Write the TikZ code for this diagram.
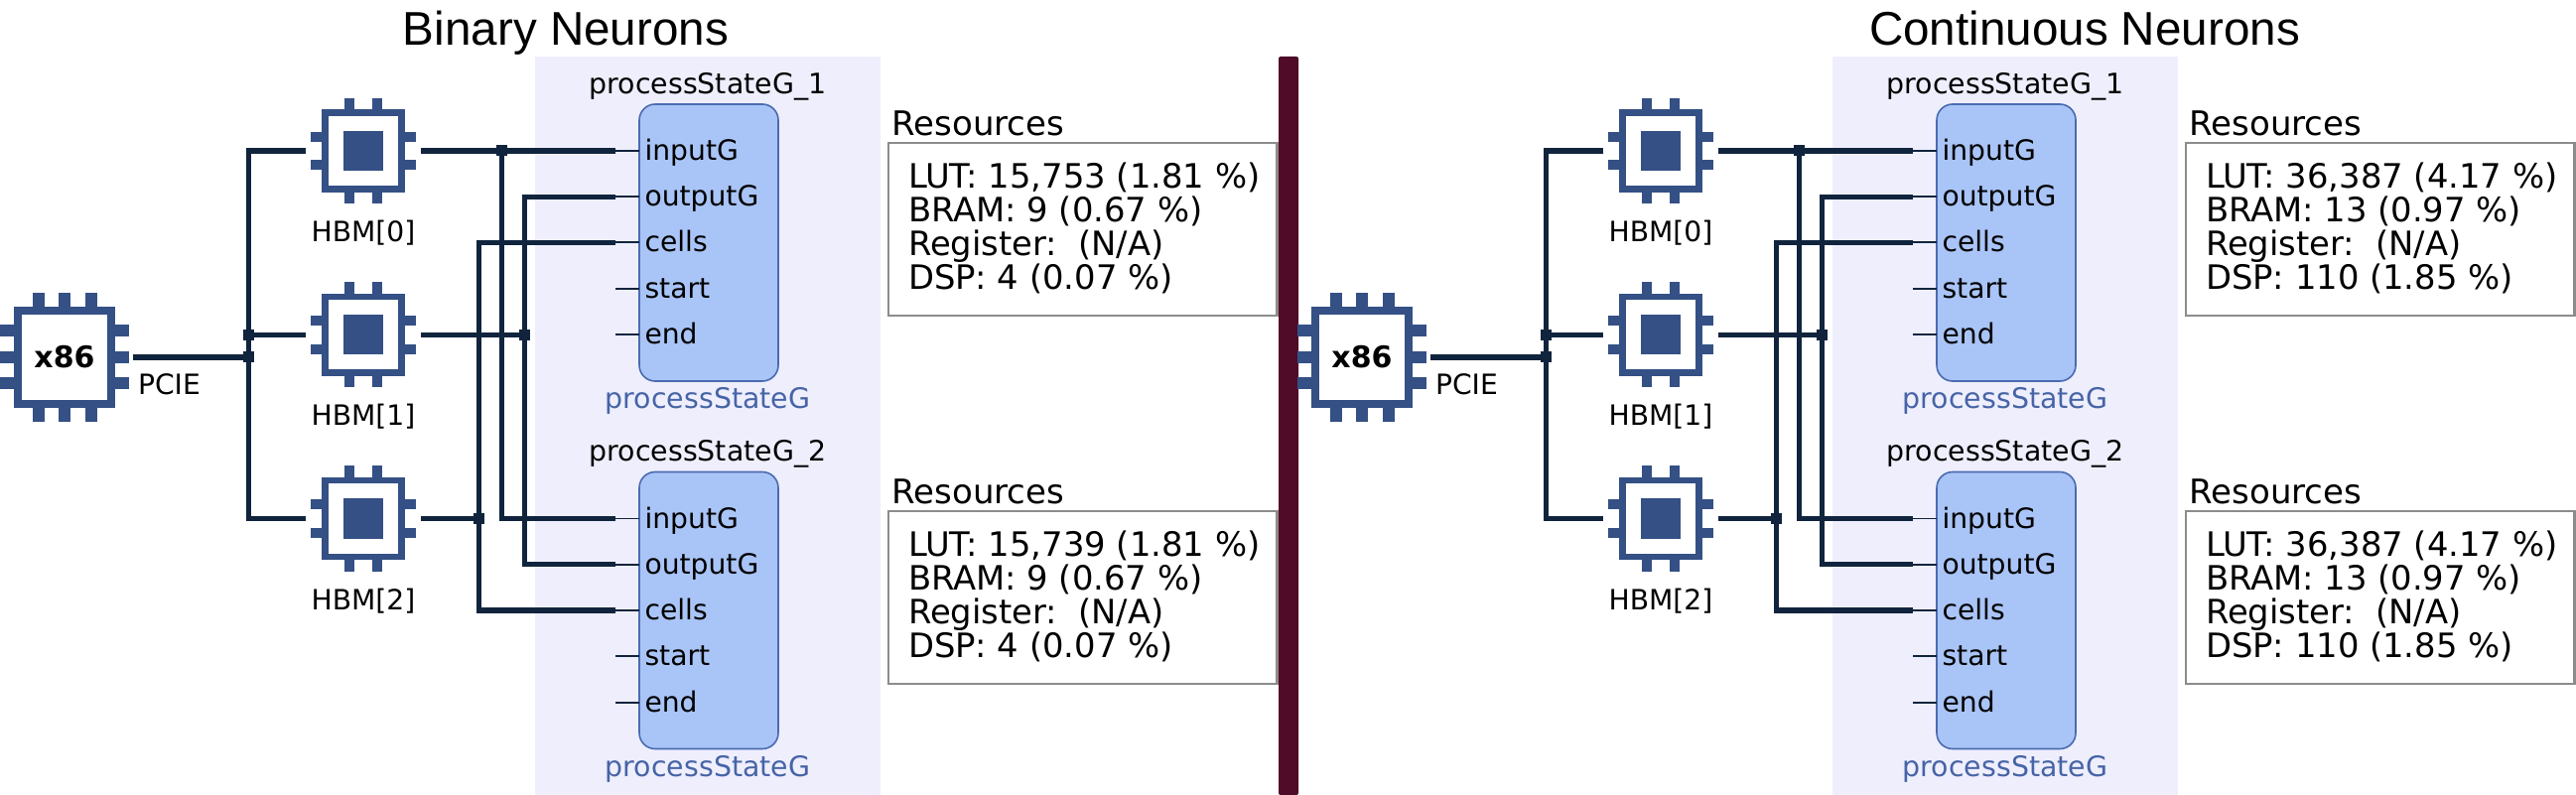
\documentclass[tikz,border=0pt]{standalone}
\usepackage{fontspec}
\setmainfont{DejaVu Sans}
\newfontfamily\titlefont{Liberation Sans}
\definecolor{chipblue}{HTML}{345085}
\definecolor{wirenavy}{HTML}{11243D}
\definecolor{panelbg}{HTML}{EEEEFD}
\definecolor{modfill}{HTML}{A9C4F6}
\definecolor{modedge}{HTML}{4A6BB0}
\definecolor{modtext}{HTML}{4664A6}
\definecolor{resedge}{HTML}{8C8C8C}
\definecolor{divider}{HTML}{4F0B27}
\tikzset{
  x=0.5pt,y=-0.5pt,
  wire/.style={draw=wirenavy,line width=2.6pt},
  stub/.style={draw=wirenavy,line width=0.9pt},
  junction/.style={fill=wirenavy,inner sep=0pt,outer sep=0pt,minimum size=5.5pt},
  panelbox/.style={fill=panelbg,inner sep=0pt,outer sep=0pt,minimum width=174pt,minimum height=372pt},
  modbox/.style={draw=modedge,line width=0.8pt,fill=modfill,rounded corners=8pt,inner sep=0pt,outer sep=0pt,minimum width=70pt,minimum height=139.5pt},
  resbox/.style={draw=resedge,line width=1.2pt,fill=white,inner sep=0pt,outer sep=0pt,minimum width=195.8pt,minimum height=87pt},
  cpubody/.style={draw=chipblue,line width=4pt,fill=white,inner sep=0pt,outer sep=0pt,minimum size=46.8pt},
  hbmbody/.style={draw=chipblue,line width=3.35pt,fill=white,inner sep=0pt,outer sep=0pt,minimum size=38.35pt},
  hbmcore/.style={fill=chipblue,inner sep=0pt,outer sep=0pt,minimum size=20pt},
  chipclear/.style={inner sep=0pt,outer sep=0pt},
  lbl/.style={inner sep=0pt,outer sep=0pt,font=\fontsize{14.1pt}{16pt}\selectfont,anchor=base},
  port/.style={lbl,anchor=base west},
  modlbl/.style={lbl,font=\fontsize{14.2pt}{16pt}\selectfont},
  restitle/.style={inner sep=0pt,outer sep=0pt,anchor=base west,font=\fontsize{17pt}{18pt}\selectfont},
  restext/.style={inner sep=0pt,outer sep=0pt,anchor=base west,font=\fontsize{16.9pt}{17pt}\selectfont},
  toptitle/.style={inner sep=0pt,outer sep=0pt,anchor=base,font=\titlefont\fontsize{23.8pt}{26pt}\selectfont},
}
% HBM chip: name, y
\newcommand{\hbmchip}[3]{%
  \foreach \dx in {-14.3,14.3}{
    \fill[chipblue] (366+\dx-5,#2-53) rectangle (366+\dx+5,#2+53);
    \fill[chipblue] (366-53,#2+\dx-5) rectangle (366+53,#2+\dx+5);
  }
  \node[hbmbody] (#1body) at (366,#2) {};
  \node[hbmcore] (#1core) at (366,#2) {};
  \node[chipclear,minimum size=58pt] (#1) at (366,#2) {};
  \node[lbl] (#1text) at (366,#2+91.5) {HBM[#3]};
}
% processing module: name, top row y, title suffix
\newcommand{\procmodule}[3]{%
  \node[modbox,anchor=north west] (#1) at (644,#2-47) {};
  \node[modlbl] (#1name) at (713,#2-57.5) {processStateG\_#3};
  \node[modlbl,text=modtext] (#1kind) at (713,#2+259.5) {processStateG};
  \coordinate (#1in) at (620.3,#2);
  \coordinate (#1out) at (620.3,#2+46.2);
  \coordinate (#1cells) at (620.3,#2+92.4);
  \coordinate (#1start) at (620.3,#2+138.8);
  \coordinate (#1end) at (620.3,#2+185.2);
  \foreach \p in {in,out,cells,start,end}
    \draw[stub] (#1\p) -- (#1.west |- #1\p);
  \node[port] (#1inL) at (649.5,#2+9.5) {inputG};
  \node[port] (#1outL) at (649.5,#2+55.7) {outputG};
  \node[port] (#1cellsL) at (649.5,#2+101.9) {cells};
  \node[port] (#1startL) at (649.5,#2+148.3) {start};
  \node[port] (#1endL) at (649.5,#2+194.7) {end};
}
% resources: name, top y, text
\newcommand{\resblock}[3]{%
  \node[resbox,anchor=north west] (#1) at (895,#2) {};
  \node[restitle] (#1title) at (898.5,#2-7.3) {Resources};
  \node[restext,align=left] (#1text) at (915,#2+147.4) {#3};
}
% one whole half of the picture
\newcommand{\halfscene}[6]{%
\begin{scope}[xshift=#2pt]
  \node[toptitle] (#1title) at (#3,46) {#4};
  \node[panelbox] (#1panel) at (713,429) {};
  % x86
  \foreach \dx in {-26.5,0,26.5}{
    \fill[chipblue] (65+\dx-6,360-65) rectangle (65+\dx+6,360+65);
    \fill[chipblue] (65-65,360+\dx-6) rectangle (65+65,360+\dx+6);
  }
  \node[cpubody] (#1cpubody) at (65,360) {};
  \node[chipclear,minimum size=69pt,font=\bfseries\fontsize{15pt}{18pt}\selectfont] (#1cpu) at (65,360) {x86};
  \node[lbl,anchor=base west] (#1pcie) at (139,397.3) {PCIE};
  \hbmchip{#1h0}{152}{0}
  \hbmchip{#1h1}{337.4}{1}
  \hbmchip{#1h2}{522.5}{2}
  \procmodule{#1a}{152}{1}
  \procmodule{#1b}{522.5}{2}
  % junctions
  \node[junction] (#1jc) at (250.5,360) {};
  \node[junction] (#1jh) at (250.5,337.4) {};
  \node[junction] (#1ji) at (505.3,152) {};
  \node[junction] (#1jo) at (528.3,337.4) {};
  \node[junction] (#1jl) at (482.3,522.5) {};
  % wires
  \draw[wire] (#1cpu.east) -- (#1jc.center);
  \draw[wire] (#1h0.west) -| (#1jh.center) |- (#1h2.west);
  \draw[wire] (#1jh.center) -- (#1h1.west);
  \draw[wire] (#1h0.east) -- (#1ain);
  \draw[wire] (#1ji.center) |- (#1bin);
  \draw[wire] (#1h1.east) -- (#1jo.center);
  \draw[wire] (#1aout) -| (#1jo.center) |- (#1bout);
  \draw[wire] (#1h2.east) -- (#1jl.center);
  \draw[wire] (#1acells) -| (#1jl.center) |- (#1bcells);
  \foreach \j in {jc,jh,ji,jo,jl}
    \node[junction] at (#1\j.center) {};
  \resblock{#1ra}{144.3}{#5}
  \resblock{#1rb}{515}{#6}
\end{scope}}
\begin{document}
\begin{tikzpicture}
  \useasboundingbox (0,0) rectangle (2595,801);
  \halfscene{L}{0}{570}{Binary Neurons}
    {LUT: 15,753 (1.81 \%)\\BRAM: 9 (0.67 \%)\\Register:\ \ (N/A)\\DSP: 4 (0.07 \%)}
    {LUT: 15,739 (1.81 \%)\\BRAM: 9 (0.67 \%)\\Register:\ \ (N/A)\\DSP: 4 (0.07 \%)}
  \node[fill=divider,rounded corners=1pt,inner sep=0pt,outer sep=0pt,minimum width=10pt,minimum height=372pt] (rule) at (1298,429) {};
  \halfscene{R}{653.5}{793}{Continuous Neurons}
    {LUT: 36,387 (4.17 \%)\\BRAM: 13 (0.97 \%)\\Register:\ \ (N/A)\\DSP: 110 (1.85 \%)}
    {LUT: 36,387 (4.17 \%)\\BRAM: 13 (0.97 \%)\\Register:\ \ (N/A)\\DSP: 110 (1.85 \%)}
\end{tikzpicture}
\end{document}
